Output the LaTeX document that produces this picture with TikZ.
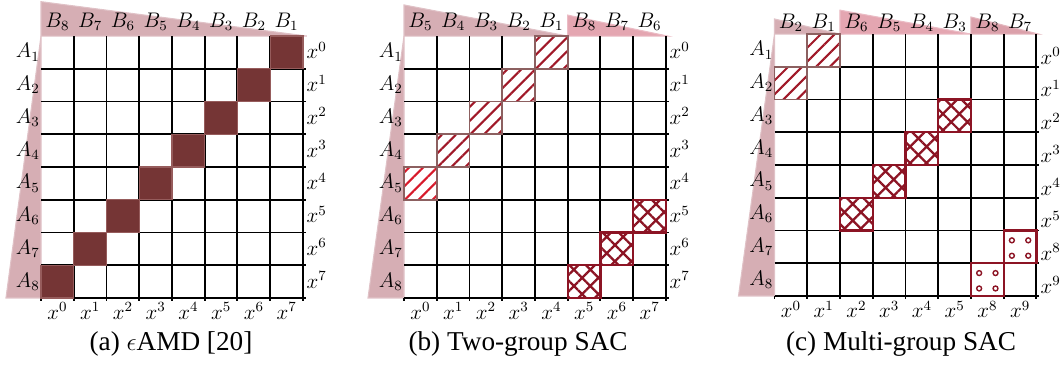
\documentclass[tikz,border=0pt]{standalone}
\usepackage{fontspec}
\newfontfamily\capfont{Liberation Serif}
\usetikzlibrary{patterns.meta}
\definecolor{triGrey}{RGB}{214,174,180}
\definecolor{triPink}{RGB}{228,166,177}
\definecolor{triRose}{RGB}{219,160,170}
\definecolor{cellDark}{RGB}{117,53,53}
\definecolor{cellEdge}{RGB}{150,92,92}
\definecolor{hatchEdge}{RGB}{140,96,96}
\definecolor{hatchRed}{RGB}{160,24,40}
\definecolor{hatchBright}{RGB}{215,25,42}
\definecolor{crossRed}{RGB}{140,20,36}

\newcommand\sacgrid[1]{%
  \foreach \k in {1,...,8} \draw[gridline] (\k,-0.08) -- (\k,8);
  \draw[gridline] (0,-0.08) -- (0,0);
  \foreach \k in {0,...,7} \draw[gridline] (0,\k) -- (8.08,\k);
  \foreach \i in {1,...,8}
    \node[lbl,anchor=base east] (#1-A\i) at (-0.03,8.33-\i) {$A_{\i}$};
}

\begin{document}
\begin{tikzpicture}[x=0.02cm,y=0.02cm,
    gridline/.style={line width=1.1pt,black},
    tri/.style={fill=#1,draw=#1!75!white,line width=0.6pt},
    darkcell/.style={fill=cellDark,draw=cellEdge,line width=0.8pt},
    hatchcell/.style={pattern={Lines[angle=45,distance=5.6pt,line width=1.2pt]},
      pattern color=#1,draw=hatchEdge,line width=1.1pt},
    crosscell/.style={pattern={Hatch[angle=45,distance=6.6pt,line width=1.3pt]},
      pattern color=crossRed,draw=crossRed,line width=1.2pt},
    dotcell/.style={draw=crossRed,line width=1.2pt},
    dotmark/.style={draw=crossRed,line width=0.8pt},
    lbl/.style={inner sep=0pt,font=\fontsize{11.5}{14}\selectfont},
    subcap/.style={anchor=base,inner sep=0pt,font=\capfont\fontsize{15.5}{18}\selectfont}]
  \useasboundingbox (0,0) rectangle (1063,368);

  % (a)
  \begin{scope}[shift={(41,70)},x=0.655cm,y=0.655cm]
    \filldraw[tri=triGrey] (0,8) -- (-1.07,0) -- (0,0) -- cycle;
    \filldraw[tri=triGrey] (0,9.05) -- (8.12,8) -- (0,8) -- cycle;
    \sacgrid{a}
    \foreach \i in {1,...,8}
      \draw[darkcell] (8-\i,8-\i) rectangle ++(1,1);
    \foreach \b [count=\c] in {8,7,...,1}
      \node[lbl,anchor=base] (a-B\b) at (\c-0.5,8.27) {$B_{\b}$};
    \foreach \k in {0,...,7} {
      \node[lbl,anchor=base west] (a-r\k) at (8.1,7.3-\k) {$x^{\k}$};
      \node[lbl,anchor=base] (a-c\k) at (\k+0.5,-0.65) {$x^{\k}$};
    }
  \end{scope}
  \node[subcap] (capa) at (171,17) {(a) $\epsilon$AMD [20]};

  % (b)
  \begin{scope}[shift={(404,70)},x=0.655cm,y=0.655cm]
    \filldraw[tri=triGrey] (0,8) -- (-1.1,0) -- (0,0) -- cycle;
    \filldraw[tri=triGrey] (0,8.95) -- (5,8) -- (0,8) -- cycle;
    \filldraw[tri=triPink] (5,8.64) -- (8.05,8) -- (5,8) -- cycle;
    \sacgrid{b}
    \foreach \i/\hc in {1/hatchRed,2/hatchRed,3/hatchRed,4/hatchRed,5/hatchBright}
      \draw[hatchcell=\hc] (5-\i,8-\i) rectangle ++(1,1);
    \foreach \i in {6,7,8}
      \draw[crosscell] (13-\i,8-\i) rectangle ++(1,1);
    \foreach \b [count=\c] in {5,4,3,2,1,8,7,6}
      \node[lbl,anchor=base] (b-B\b) at (\c-0.5,8.27) {$B_{\b}$};
    \foreach \k in {0,...,7} {
      \node[lbl,anchor=base west] (b-r\k) at (8.1,7.3-\k) {$x^{\k}$};
      \node[lbl,anchor=base] (b-c\k) at (\k+0.5,-0.65) {$x^{\k}$};
    }
  \end{scope}
  \node[subcap] (capb) at (518,17) {(b) Two-group SAC};

  % (c)
  \begin{scope}[shift={(774.5,72)},x=0.655cm,y=0.655cm]
    \filldraw[tri=triGrey] (0,8) -- (-1.1,0) -- (0,0) -- cycle;
    \filldraw[tri=triGrey] (0,8.46) -- (2,8) -- (0,8) -- cycle;
    \filldraw[tri=triPink] (2,8.73) -- (6,8) -- (2,8) -- cycle;
    \filldraw[tri=triRose] (6,8.52) -- (8.06,8) -- (6,8) -- cycle;
    \sacgrid{c}
    \foreach \i in {1,2}
      \draw[hatchcell=hatchRed] (2-\i,8-\i) rectangle ++(1,1);
    \foreach \i in {3,...,6}
      \draw[crosscell] (8-\i,8-\i) rectangle ++(1,1);
    \foreach \i in {7,8} {
      \draw[dotcell] (14-\i,8-\i) rectangle ++(1,1);
      \foreach \dx in {0.25,0.75}
        \foreach \dy in {0.23,0.7}
          \draw[dotmark] (14-\i+\dx,8-\i+\dy) circle (0.075);
    }
    \foreach \b [count=\c] in {2,1,6,5,4,3,8,7}
      \node[lbl,anchor=base] (c-B\b) at (\c-0.5,8.17) {$B_{\b}$};
    \foreach \k [count=\c from 0] in {0,1,2,3,4,5,8,9} {
      \node[lbl,anchor=base west] (c-r\k) at (8.12,7.08-\c) {$x^{\k}$};
      \node[lbl,anchor=base] (c-c\k) at (\c+0.5,-0.67) {$x^{\k}$};
    }
  \end{scope}
  \node[subcap] (capc) at (901,17) {(c) Multi-group SAC};
\end{tikzpicture}
\end{document}
